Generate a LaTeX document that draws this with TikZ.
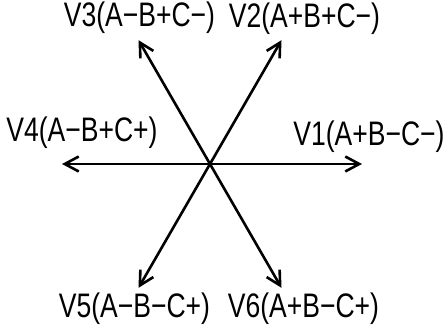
\documentclass[tikz,border=0pt]{standalone}
\usepackage{fontspec}
\newfontfamily\lblfont{Liberation Sans}
\usetikzlibrary{arrows.meta,positioning}
\newcommand{\vlbl}[1]{\scalebox{0.78}[1]{#1}}

\begin{document}
\begin{tikzpicture}[x=1pt, y=1pt, >={Straight Barb[length=14pt,width=15pt]},
    vec/.style={->, line width=2.6pt},
    lbl/.style={font=\lblfont\fontsize{34}{34}\selectfont, inner sep=0pt}]
    \useasboundingbox (0,0) rectangle (446,328);
    \coordinate (o) at (210,164);
    \path (o) ++(0:152) coordinate (v1);
    \path (o) ++(60:143) coordinate (v2);
    \path (o) ++(120:143) coordinate (v3);
    \path (o) ++(180:148) coordinate (v4);
    \path (o) ++(240:143) coordinate (v5);
    \path (o) ++(300:143) coordinate (v6);

    \draw[vec] (o) -- (v1);
    \draw[vec] (o) -- (v2);
    \draw[vec] (o) -- (v3);
    \draw[vec] (o) -- (v4);
    \draw[vec] (o) -- (v5);
    \draw[vec] (o) -- (v6);

    \node[lbl, above=11pt of v1, xshift=7pt] (l1) {\vlbl{V1(A+B−C−)}};
    \node[lbl, above=5pt of v2, xshift=23pt] (l2) {\vlbl{V2(A+B+C−)}};
    \node[lbl, above=6pt of v3, xshift=1pt] (l3) {\vlbl{V3(A−B+C−)}};
    \node[lbl, above=15pt of v4, xshift=20pt] (l4) {\vlbl{V4(A−B+C+)}};
    \node[lbl, below=5pt of v5, xshift=-4pt] (l5) {\vlbl{V5(A−B−C+)}};
    \node[lbl, below=5pt of v6, xshift=22pt] (l6) {\vlbl{V6(A+B−C+)}};
\end{tikzpicture}
\end{document}
